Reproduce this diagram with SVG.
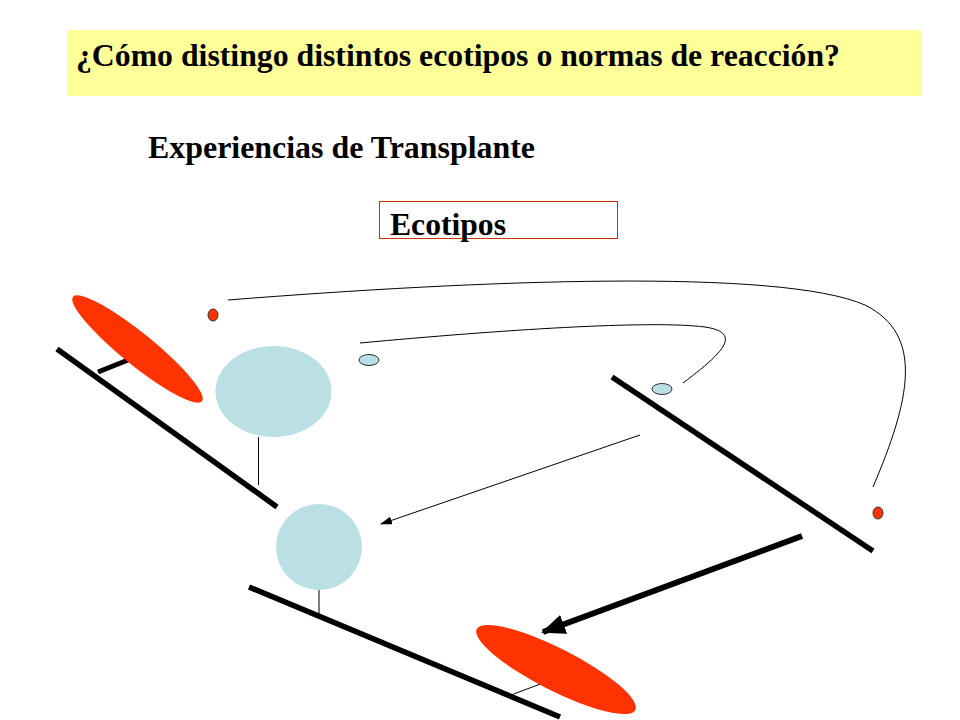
<svg xmlns="http://www.w3.org/2000/svg" width="960" height="720" viewBox="0 0 960 720">
<defs>
<style>
.t{font-family:"Liberation Serif","Times New Roman",serif;font-weight:bold;fill:#000}
.red{fill:#FF3300}
.blue{fill:#BADFE4}
.dot{stroke:#333;stroke-width:1}
.ground{stroke:#000;stroke-width:5.5;fill:none}
.stem{stroke:#000;stroke-width:1;fill:none}
.curve{stroke:#000;stroke-width:1;fill:none}
</style>
<marker id="ah" markerWidth="12" markerHeight="8" refX="11" refY="4" orient="auto" markerUnits="userSpaceOnUse">
<path d="M0,0 L12,4 L0,8 Z" fill="#000"/>
</marker>
<marker id="ahb" markerWidth="24" markerHeight="20" refX="22" refY="10" orient="auto" markerUnits="userSpaceOnUse">
<path d="M0,0 L24,10 L0,20 Z" fill="#000"/>
</marker>
</defs>
<rect width="960" height="720" fill="#fff"/>
<g id="title">
<rect x="67" y="30" width="855" height="66" fill="#FFFF99"/>
<text class="t" x="76" y="66" font-size="31" textLength="764" lengthAdjust="spacingAndGlyphs">¿Cómo distingo distintos ecotipos o normas de reacción?</text>
</g>
<g id="subtitle">
<text class="t" x="148" y="158" font-size="31" textLength="387" lengthAdjust="spacingAndGlyphs">Experiencias de Transplante</text>
</g>
<g id="ecotipos">
<rect x="379.5" y="201.5" width="238" height="37" fill="none" stroke="#CC3300" stroke-width="1"/>
<text class="t" x="390" y="235" font-size="31" textLength="116" lengthAdjust="spacingAndGlyphs">Ecotipos</text>
</g>
<g id="site-left">
<line class="ground" x1="57" y1="349" x2="277" y2="507"/>
<line x1="98" y1="372" x2="128" y2="360" stroke="#000" stroke-width="5"/>
<ellipse class="red" cx="137.5" cy="349" rx="83" ry="16" transform="rotate(39 137.5 349)"/>
<line class="stem" x1="258.5" y1="437" x2="258.5" y2="485"/>
<ellipse class="blue" cx="273.5" cy="391.5" rx="58" ry="45.5"/>
</g>
<g id="site-right">
<line class="ground" x1="612" y1="377" x2="873" y2="551"/>
</g>
<g id="site-bottom">
<line class="ground" x1="249" y1="587" x2="560" y2="717"/>
<line class="stem" x1="319" y1="590" x2="319" y2="614"/>
<ellipse class="blue" cx="319" cy="547" rx="43" ry="43"/>
<line class="stem" x1="511" y1="695" x2="543" y2="683"/>
<ellipse class="red" cx="556" cy="669.5" rx="89" ry="21" transform="rotate(27 556 669.5)"/>
</g>
<g id="seeds">
<ellipse class="red dot" cx="213" cy="315" rx="5" ry="6"/>
<ellipse class="blue dot" cx="369" cy="360" rx="10" ry="5.5"/>
<ellipse class="blue dot" cx="662" cy="389" rx="10" ry="5.5"/>
<ellipse class="red dot" cx="878" cy="513" rx="5" ry="6"/>
</g>
<g id="connectors">
<path class="curve" d="M228,300 C 480,280 780,268 865,305 C 925,335 910,400 873,487"/>
<path class="curve" d="M360,343 C 500,330 650,320 705,327 C 745,333 720,355 683,383"/>
<line x1="640" y1="435" x2="381" y2="524" stroke="#000" stroke-width="1" marker-end="url(#ah)"/>
<line x1="802" y1="536" x2="543" y2="632" stroke="#000" stroke-width="6" marker-end="url(#ahb)"/>
</g>
</svg>
